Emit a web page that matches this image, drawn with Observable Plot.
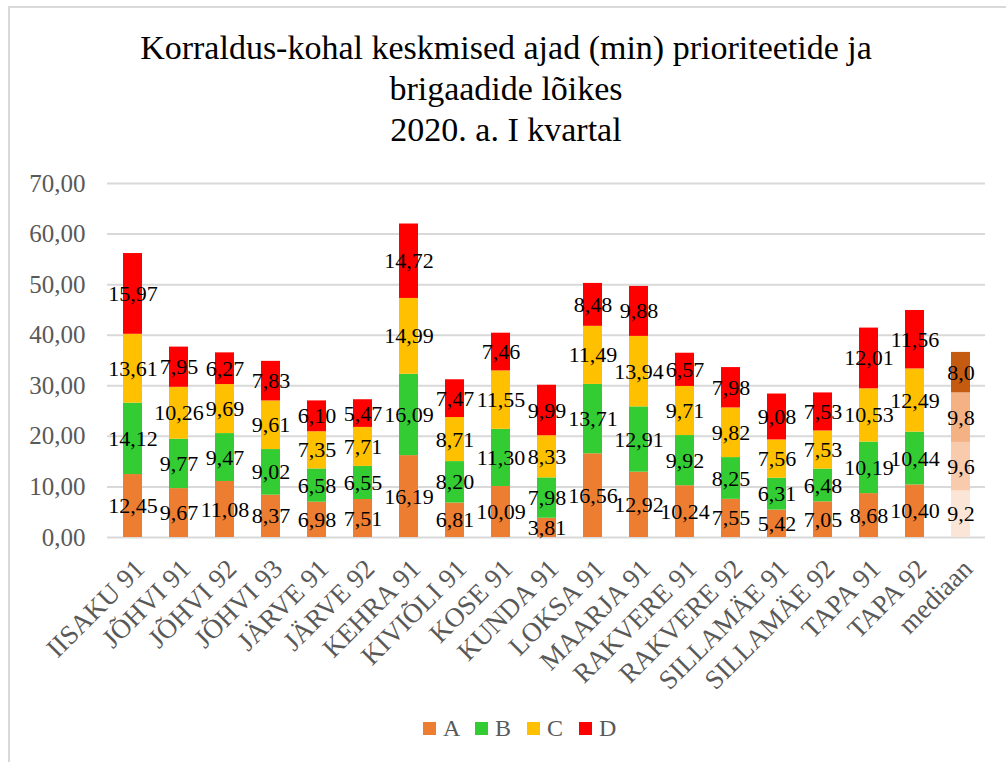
<!DOCTYPE html>
<html><head><meta charset="utf-8">
<script src="https://cdn.jsdelivr.net/npm/d3@7"></script>
<script src="https://cdn.jsdelivr.net/npm/@observablehq/plot@0.6"></script>
<style>
body{margin:0;width:1006px;height:762px;overflow:hidden;background:#fff;font-family:"Times New Roman","Liberation Serif","DejaVu Serif",serif;position:relative}
#frame{position:absolute;left:8px;top:6px;width:1100px;height:900px;border-left:2px solid #D9D9D9;border-top:2px solid #D9D9D9}
#title{position:absolute;left:0;top:27px;width:1012px;text-align:center;font-size:34px;line-height:41px;color:#000}
#chart{position:absolute;left:0;top:150px}
#legend{position:absolute;top:714px;left:423px;display:flex;font-size:24px;line-height:28px;color:#595959}
.item{display:flex;align-items:center;width:52px}
.sw{width:13px;height:13px;margin-right:7px}
</style></head>
<body>
<div id="frame"></div>
<div id="title">Korraldus-kohal keskmised ajad (min) prioriteetide ja<br>brigaadide lõikes<br>2020. a. I kvartal</div>
<div id="chart"></div>
<div id="legend"></div>
<script>
const categories = ["IISAKU 91","JÕHVI 91","JÕHVI 92","JÕHVI 93","JÄRVE 91","JÄRVE 92","KEHRA 91","KIVIÕLI 91","KOSE 91","KUNDA 91","LOKSA 91","MAARJA 91","RAKVERE 91","RAKVERE 92","SILLAMÄE 91","SILLAMÄE 92","TAPA 91","TAPA 92","mediaan"];
const seriesNames = ["A","B","C","D"];
const seriesA = [12.45, 9.67, 11.08, 8.37, 6.98, 7.51, 16.19, 6.81, 10.09, 3.81, 16.56, 12.92, 10.24, 7.55, 5.42, 7.05, 8.68, 10.40, 9.2];
const seriesB = [14.12, 9.77, 9.47, 9.02, 6.58, 6.55, 16.09, 8.20, 11.30, 7.98, 13.71, 12.91, 9.92, 8.25, 6.31, 6.48, 10.19, 10.44, 9.6];
const seriesC = [13.61, 10.26, 9.69, 9.61, 7.35, 7.71, 14.99, 8.71, 11.55, 8.33, 11.49, 13.94, 9.71, 9.82, 7.56, 7.53, 10.53, 12.49, 9.8];
const seriesD = [15.97, 7.95, 6.27, 7.83, 6.10, 5.47, 14.72, 7.47, 7.46, 9.99, 8.48, 9.88, 6.57, 7.98, 9.08, 7.53, 12.01, 11.56, 8.0];
const yTicks = [0, 10, 20, 30, 40, 50, 60, 70];
const colorsMain = ["#ED7D31","#33CC33","#FFC000","#FF0000"];
const colorsMedian = ["#FBE5D6","#F8CBAD","#F4B183","#C55A11"];

const values = [seriesA, seriesB, seriesC, seriesD];
const rows = [];
categories.forEach((c, i) => {
  const isMed = c === "mediaan";
  seriesNames.forEach((s, j) => {
    const v = values[j][i];
    rows.push({cat: c, series: s, value: v,
      label: v.toFixed(isMed ? 1 : 2).replace(".", ","),
      color: isMed ? colorsMedian[j] : colorsMain[j]});
  });
});
const fmt2 = d => d.toFixed(2).replace(".", ",");
const serifStack = "'Times New Roman', 'Liberation Serif', 'DejaVu Serif', serif";

const chart = Plot.plot({
  width: 1006, height: 560,
  marginTop: 33, marginBottom: 173, marginLeft: 107, marginRight: 21,
  style: {fontFamily: serifStack, background: "transparent", overflow: "visible"},
  x: {domain: categories, paddingInner: 0.59, paddingOuter: 0.295, axis: null},
  y: {domain: [0, 70], axis: null},
  color: {type: "identity"},
  marks: [
    Plot.gridY(yTicks, {stroke: "#D9D9D9", strokeOpacity: 1, strokeWidth: 2}),
    Plot.axisY(yTicks, {tickSize: 0, tickPadding: 22, tickFormat: fmt2, fontSize: 25, fill: "#595959", label: null}),
    Plot.barY(rows, Plot.stackY({x: "cat", y: "value", z: "series", fill: "color"})),
    Plot.text(rows, Plot.stackY({x: "cat", y: "value", z: "series", text: "label", fontSize: 22, fill: "#000"})),
    Plot.text(categories, {x: d => d, frameAnchor: "bottom", rotate: -45, textAnchor: "end", lineAnchor: "bottom", dx: 13, dy: 33, fontSize: 27, fill: "#595959"})
  ]
});
document.getElementById("chart").appendChild(chart);

const legend = document.getElementById("legend");
seriesNames.forEach((s, j) => {
  const it = document.createElement("div"); it.className = "item";
  const sw = document.createElement("div"); sw.className = "sw"; sw.style.background = colorsMain[j];
  const t = document.createElement("span"); t.textContent = s;
  it.appendChild(sw); it.appendChild(t); legend.appendChild(it);
});
</script>
</body></html>
